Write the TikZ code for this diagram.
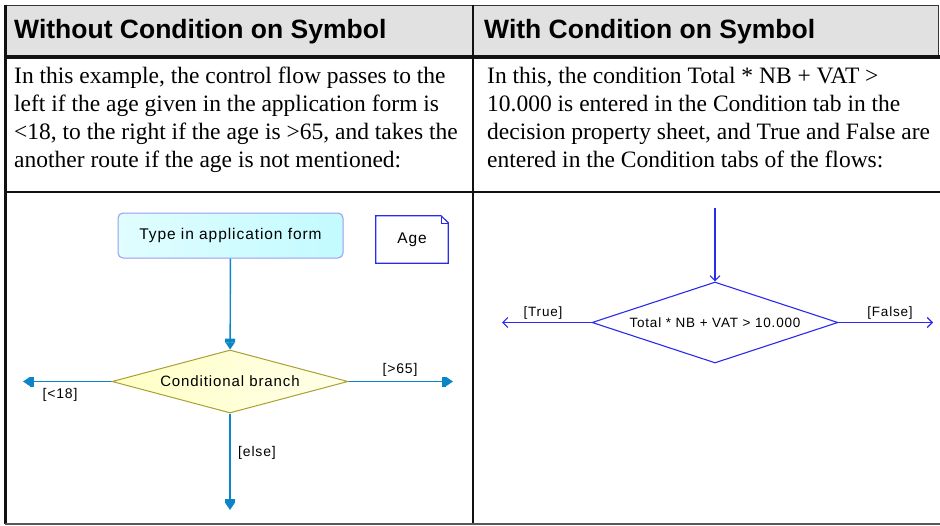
\documentclass[tikz,border=0pt]{standalone}
\usepackage{fontspec}
\setmainfont{Liberation Serif}
\setsansfont{Liberation Sans}
\newfontfamily\diagfont[LetterSpace=6]{Liberation Sans}
\usetikzlibrary{arrows.meta,shapes.geometric}
\definecolor{rule}{HTML}{111111}
\definecolor{headfill}{HTML}{E1E1E1}
\definecolor{flow}{HTML}{0A86C8}
\definecolor{flowdark}{HTML}{2A2AEE}
\definecolor{boxedge}{HTML}{9A9AF2}
\definecolor{cyanlight}{HTML}{C2FBFF}
\definecolor{branchedge}{HTML}{A8A032}
\definecolor{yellowlight}{HTML}{FFFFC4}

\begin{document}
\begin{tikzpicture}[x=1pt, y=-1pt,
  head/.style={font=\sffamily\bfseries\fontsize{26.5}{30}\selectfont, anchor=base west, inner sep=0pt},
  para/.style={font=\fontsize{23.5}{28}\selectfont, anchor=base west, align=left, inner sep=0pt},
  lab/.style={font=\diagfont\fontsize{14}{16}\selectfont, inner sep=0pt, anchor=base},
  flowline/.style={flow, line width=1.4pt, -{Rectangle[length=4pt,width=10pt]Triangle[length=7pt,width=9pt]}},
  condline/.style={flowdark, line width=1.1pt, -{Straight Barb[length=5pt,width=10pt]}}]
  \useasboundingbox (0,0) rectangle (940,525);
  \fill[headfill] (5,5) rectangle (938,55);
  \draw[rule!85, line width=1pt] (5,5) -- (938,5) -- (938,55);
  \draw[rule, line width=4pt] (5,56.5) -- (940,56.5);
  \draw[rule, line width=2.5pt] (5,192) -- (940,192);
  \draw[rule, line width=2.5pt] (5.5,4.5) -- (5.5,524);
  \draw[rule, line width=1.5pt] (473,4.5) -- (473,524);
  \draw[rule!70, line width=2pt] (5,523.5) -- (940,523.5);
  \node[head] (hwithout) at (14,38) {Without Condition on Symbol};
  \node[head] (hwith) at (484,38) {With Condition on Symbol};
  \node[para] (twithout) at (14,167) {In this example, the control flow passes to the\\
    left if the age given in the application form is\\
    <18, to the right if the age is >65, and takes the\\
    another route if the age is not mentioned:};
  \node[para] (twith) at (487,167) {In this, the condition Total * NB + VAT >\\
    10.000 is entered in the Condition tab in the\\
    decision property sheet, and True and False are\\
    entered in the Condition tabs of the flows:};
  % without condition on symbol
  \node[draw=boxedge, line width=1pt, rounded corners=5pt, left color=white!50!cyanlight, right color=cyanlight,
        minimum width=225pt, minimum height=45pt, font=\diagfont\fontsize{15.5}{17}\selectfont] (typein) at (230.5,235.5) {Type in application form};
  \node[minimum width=72pt, minimum height=47pt, font=\diagfont\fontsize{15.5}{17}\selectfont] (age) at (412,239.5) {Age};
  \draw[flowdark, line width=1.2pt] (age.south west) -- (age.north west) -- ([xshift=-7pt]age.north east)
    -- ([yshift=-7pt]age.north east) -- (age.south east) -- cycle;
  \draw[flowdark, line width=0.6pt] ([xshift=-7pt]age.north east) -- ([xshift=-7pt,yshift=-7pt]age.north east)
    -- ([yshift=-7pt]age.north east);
  \node[diamond, aspect=3.75, draw=branchedge, line width=1pt, left color=yellowlight, right color=yellowlight!35,
        minimum width=236pt, minimum height=63pt, inner sep=0pt, font=\diagfont\fontsize{15}{17}\selectfont] (branch) at (230,381.5) {Conditional branch};
  \coordinate (young) at (23,381.5);
  \coordinate (old) at (453,381.5);
  \coordinate (other) at (230,510);
  \draw[flowline] (typein) -- (branch);
  \draw[flowline] (branch) -- (young);
  \draw[flowline] (branch) -- (old);
  \draw[flowline] (branch) -- (other);
  \node[lab] (lyoung) at (60,398) {[<18]};
  \node[lab] (lold) at (400,373) {[>65]};
  \node[lab] (lother) at (257,456) {[else]};
  % with condition on symbol
  \coordinate (entry) at (715,208);
  \node[diamond, aspect=3, draw=flowdark, line width=1.1pt, minimum width=246pt, minimum height=81pt, inner sep=0pt,
        font=\diagfont\fontsize{13.5}{15}\selectfont] (cond) at (715,322.5) {Total * NB + VAT > 10.000};
  \coordinate (yes) at (502,322.5);
  \coordinate (no) at (933,322.5);
  \draw[condline] (entry) -- (cond);
  \draw[condline] (cond) -- (yes);
  \draw[condline] (cond) -- (no);
  \node[lab, font=\diagfont\fontsize{13.5}{15}\selectfont] (lyes) at (543,316) {[True]};
  \node[lab, font=\diagfont\fontsize{13.5}{15}\selectfont] (lno) at (890,316) {[False]};
\end{tikzpicture}
\end{document}
